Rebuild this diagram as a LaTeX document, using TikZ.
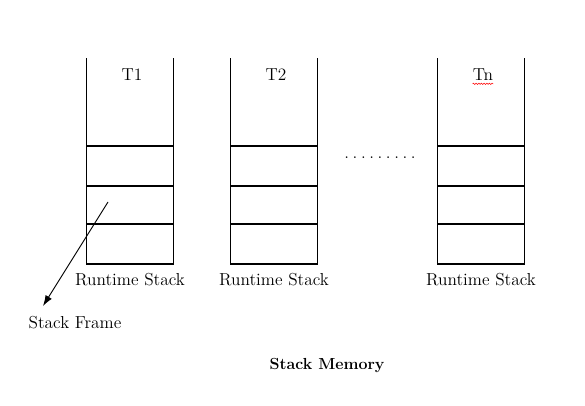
\documentclass[tikz,border=0pt]{standalone}
\usetikzlibrary{
  arrows.meta,
  positioning,
  decorations.pathmorphing
}
\newcommand{\gapdots}{.\kern2.7pt.\kern2.7pt.\kern2.7pt.\kern2.7pt.\kern2.7pt.\kern2.7pt.\kern2.7pt.\kern2.7pt.}
\begin{document}
\begin{tikzpicture}[
  x=0.75pt, y=-0.75pt,
  frame/.style={
    rectangle, draw, line width=0.95pt,
    minimum width=65.6pt,
    inner sep=0pt, outer sep=0pt
  },
  wall/.style={line width=0.95pt},
  title/.style={
    font=\fontsize{13}{15}\selectfont,
    inner sep=0pt
  },
  caption/.style={
    font=\fontsize{13}{15}\selectfont,
    inner sep=0pt
  }
]
  \useasboundingbox (0,0) rectangle (585,406);

  % Runtime stacks (frames bottom to top)
  \foreach \x/\id/\name in {130/1/T1, 274/2/T2, 481/n/Tn} {
    \node[frame, minimum height=30pt] (low\id) at (\x,244) {};
    \node[frame, minimum height=28.5pt,
      above=0pt of low\id] (mid\id) {};
    \node[frame, minimum height=30pt,
      above=0pt of mid\id] (high\id) {};
    \coordinate (top\id) at (\x,58);
    \draw[wall] (high\id.north west) -- (high\id.north west |- top\id);
    \draw[wall] (high\id.north east) -- (high\id.north east |- top\id);
    \node[title] (thread\id) at (\x+2,75) {\name};
    \node[caption, below=6.5pt of low\id] (rt\id) {Runtime Stack};
  }

  % spell-check squiggle under Tn
  \draw[red, line width=0.4pt,
    decorate, decoration={snake, amplitude=0.5pt, segment length=2pt}]
    ([yshift=-2pt]threadn.south west) -- ([yshift=-2pt]threadn.south east);

  % Gap between stacks
  \node[font=\fontsize{13}{15}\selectfont, inner sep=0pt] (gap) at (380,158) {\gapdots};

  % Stack frame pointer
  \coordinate (pick) at (108,202);
  \node[caption] (sf) at (75,323) {Stack Frame};
  \coordinate (tip) at (43,306);
  \draw[line width=0.7pt, -{Latex[length=8pt,width=5.5pt]}] (pick) -- (tip);

  % Caption
  \node[font=\fontsize{12}{14}\selectfont\bfseries, inner sep=0pt]
    (mem) at (327,366) {Stack Memory};
\end{tikzpicture}
\end{document}
